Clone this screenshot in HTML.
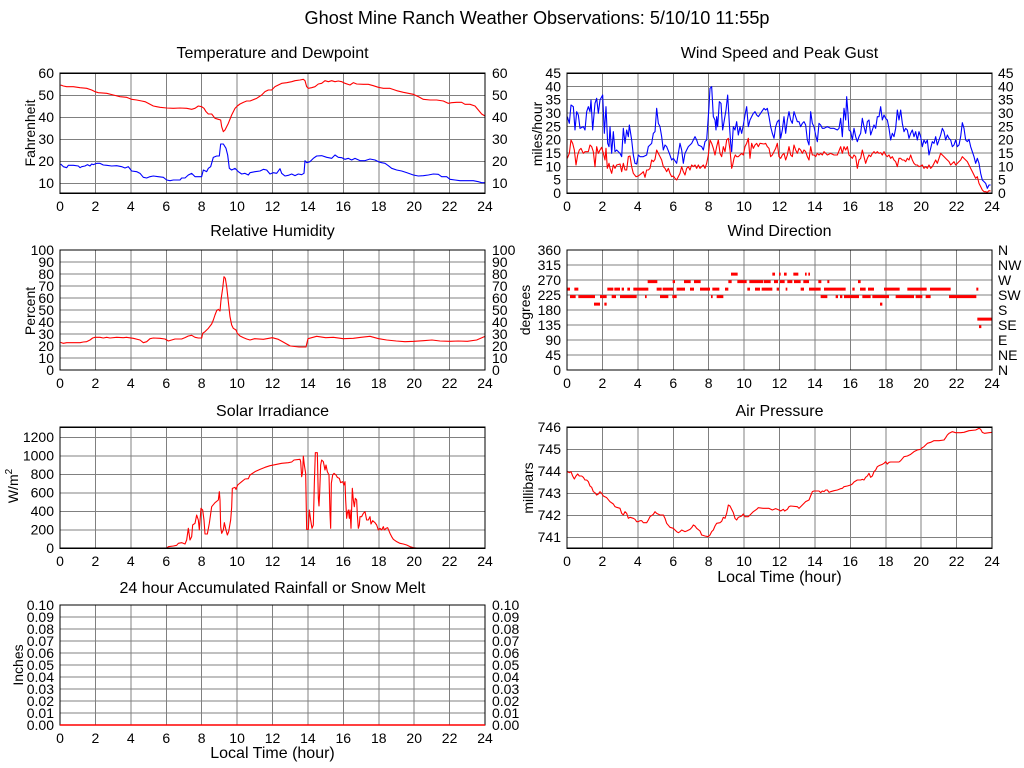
<!DOCTYPE html>
<html><head><meta charset="utf-8"><style>
html,body{margin:0;padding:0;background:#fff;}
svg{display:block;font-family:"Liberation Sans",Arial,sans-serif;}
.g{stroke:#808080;stroke-width:1;fill:none;shape-rendering:crispEdges}
.f{stroke:#000;stroke-width:1.3;fill:none;shape-rendering:crispEdges}
.s{fill:none;stroke-width:1.1;vector-effect:non-scaling-stroke;stroke-linejoin:round}
.r{stroke:#f00}.b{stroke:#00f}
.d{stroke:#f00;stroke-width:3;vector-effect:non-scaling-stroke;fill:none}
.t{font-size:16px;fill:#000}
.k{font-size:14px;fill:#000}
.e{text-anchor:end}.m{text-anchor:middle}
</style></head><body>
<svg width="1024" height="768" viewBox="0 0 1024 768" xmlns="http://www.w3.org/2000/svg">
<rect width="1024" height="768" fill="#fff"/>
<text x="537" y="24" class="m" font-size="18" textLength="465" lengthAdjust="spacingAndGlyphs">Ghost Mine Ranch Weather Observations: 5/10/10 11:55p</text>

<!-- ===== Panel 1: Temperature ===== -->
<text x="272.5" y="58" class="t m">Temperature and Dewpoint</text>
<path class="g" d="M95.4 73V193M130.8 73V193M166.3 73V193M201.7 73V193M237.1 73V193M272.5 73V193M307.9 73V193M343.3 73V193M378.8 73V193M414.2 73V193M449.6 73V193M60 95.3H485M60 117.3H485M60 139.3H485M60 161.3H485M60 183.3H485"/>
<g transform="translate(0,40) scale(0.33333)">
<polyline class="s r" points="182,135 190,138 200,140 220,140 240,143 260,145 275,150 285,155 295,158 320,160 340,165 360,170 380,172 395,178 410,180 425,183 435,185 445,190 460,198 470,200 480,202 500,204 520,205 540,204 560,205 575,208 585,205 595,198 605,200 612,205 618,215 625,222 635,222 645,235 655,238 662,240 665,260 670,275 675,270 685,250 695,225 705,205 712,198 720,192 730,187 740,183 750,183 770,175 785,165 795,155 805,150 815,150 825,140 835,135 845,130 860,128 875,125 885,122 900,120 910,118 915,122 920,140 925,145 935,143 945,140 955,132 965,130 975,122 985,125 995,122 1005,125 1015,123 1025,125 1035,130 1050,135 1060,128 1070,132 1090,133 1105,133 1120,137 1135,142 1150,145 1170,145 1190,152 1210,157 1225,160 1240,163 1255,170 1270,178 1290,180 1310,180 1330,183 1345,190 1355,188 1370,187 1385,187 1395,193 1410,193 1425,198 1435,210 1445,222 1455,228"/>
<polyline class="s b" points="182,372 190,380 200,383 205,376 220,376 235,378 240,383 245,380 255,378 262,374 270,378 275,372 280,374 290,370 300,370 310,375 320,376 335,378 350,377 365,380 375,384 385,380 395,393 410,395 420,400 430,412 440,414 450,410 460,408 475,410 490,412 500,420 510,422 520,420 540,420 545,414 555,414 565,405 575,400 585,410 605,410 610,390 620,395 625,385 632,380 640,352 650,348 658,348 662,312 670,312 678,325 683,345 688,385 695,390 705,385 715,395 725,402 735,400 745,405 750,398 765,395 780,393 790,388 800,390 810,402 820,398 830,400 840,386 845,400 850,404 855,408 865,406 875,402 885,407 895,402 905,404 912,400 915,362 920,368 930,365 940,355 950,348 965,347 980,352 995,355 1005,345 1015,352 1025,353 1035,358 1045,355 1055,360 1065,355 1080,362 1095,362 1110,357 1125,360 1135,365 1145,368 1155,370 1165,377 1175,385 1190,390 1205,393 1220,398 1240,405 1255,408 1270,407 1285,405 1300,402 1315,403 1325,410 1340,410 1350,418 1365,420 1380,422 1400,422 1420,422 1435,425 1445,428 1455,428"/>
</g>
<rect class="f" x="60" y="73.3" width="425" height="120"/>
<g class="k e">
<text x="54" y="78">60</text><text x="54" y="100">50</text><text x="54" y="122">40</text><text x="54" y="144">30</text><text x="54" y="166">20</text><text x="54" y="188">10</text>
</g>
<g class="k">
<text x="492" y="78">60</text><text x="492" y="100">50</text><text x="492" y="122">40</text><text x="492" y="144">30</text><text x="492" y="166">20</text><text x="492" y="188">10</text>
</g>
<g class="k m">
<text x="60" y="211">0</text><text x="95.4" y="211">2</text><text x="130.8" y="211">4</text><text x="166.3" y="211">6</text><text x="201.7" y="211">8</text><text x="237.1" y="211">10</text><text x="272.5" y="211">12</text><text x="307.9" y="211">14</text><text x="343.3" y="211">16</text><text x="378.8" y="211">18</text><text x="414.2" y="211">20</text><text x="449.6" y="211">22</text><text x="485" y="211">24</text>
</g>
<text class="k m" transform="translate(35,133) rotate(-90)">Fahrenheit</text>

<!-- ===== Panel 2: Wind speed ===== -->
<text x="779.5" y="58" class="t m">Wind Speed and Peak Gust</text>
<path class="g" d="M602.4 73V193M637.8 73V193M673.3 73V193M708.7 73V193M744.1 73V193M779.5 73V193M814.9 73V193M850.3 73V193M885.8 73V193M921.2 73V193M956.6 73V193M567 86.3H992M567 99.7H992M567 113H992M567 126.3H992M567 139.7H992M567 153H992M567 166.3H992M567 179.7H992"/>
<g transform="translate(510,40) scale(0.33333)">
<polyline class="s b" points="172,230 178,250 183,195 190,200 195,270 200,215 205,225 210,265 220,260 225,270 230,215 235,200 240,215 243,180 248,270 255,190 260,175 265,220 270,180 278,165 283,280 288,200 293,310 297,320 300,260 305,340 310,275 315,335 320,330 330,340 335,350 340,265 345,310 350,270 355,290 358,255 365,300 370,345 375,370 380,372 385,345 390,350 400,350 410,345 415,320 425,310 430,280 435,275 440,205 445,250 450,260 455,290 460,330 465,315 470,320 478,340 485,360 490,355 500,370 505,340 510,310 515,330 520,370 525,340 530,330 535,320 545,310 555,290 560,300 565,315 575,320 580,330 585,305 590,300 597,200 600,145 605,140 610,230 615,240 618,270 620,230 623,260 628,185 633,190 638,270 643,240 648,210 653,165 658,250 662,310 665,335 670,260 675,270 680,245 685,285 690,260 695,280 700,255 705,225 710,200 715,260 720,240 725,230 730,220 735,215 740,225 745,230 755,215 762,205 767,210 772,205 777,230 782,260 787,280 792,295 797,260 802,245 807,240 812,295 817,270 822,230 827,280 832,240 837,215 842,240 847,250 852,215 857,230 862,245 867,245 872,260 877,250 882,245 887,255 892,300 897,315 902,215 907,250 912,260 917,285 922,305 927,250 932,255 937,265 942,265 952,260 962,265 972,265 982,270 987,265 992,235 997,290 1002,205 1007,240 1010,170 1014,220 1017,270 1022,275 1027,300 1032,265 1037,290 1042,305 1047,290 1052,280 1057,235 1062,260 1067,280 1072,245 1077,240 1082,285 1087,270 1092,255 1097,265 1102,230 1107,230 1112,200 1117,240 1122,225 1127,235 1132,240 1137,265 1142,300 1147,280 1152,290 1157,265 1162,210 1167,240 1172,210 1177,250 1182,275 1187,265 1192,270 1197,295 1202,280 1207,270 1212,290 1217,275 1222,300 1227,275 1232,290 1237,320 1242,300 1247,310 1252,300 1257,345 1262,325 1267,305 1272,310 1277,290 1282,315 1287,300 1292,285 1297,265 1302,275 1307,300 1312,285 1317,295 1322,300 1327,320 1332,315 1337,300 1342,320 1347,315 1352,290 1357,248 1362,265 1367,300 1372,305 1377,298 1382,320 1387,335 1392,350 1397,370 1402,355 1407,370 1412,400 1417,420 1422,425 1427,430 1432,445 1437,435 1442,435"/>
<polyline class="s r" points="172,355 178,340 183,300 188,310 193,330 198,375 203,345 208,330 213,325 220,340 225,335 235,335 240,315 245,320 250,335 255,380 260,320 265,340 270,330 275,322 280,340 285,360 288,325 292,385 297,370 300,385 305,400 310,375 315,385 320,375 330,372 335,395 340,370 345,390 350,390 355,350 360,348 365,380 370,400 378,410 385,408 395,400 400,395 405,412 410,390 415,390 420,385 425,360 430,365 435,358 440,330 445,340 450,350 455,360 460,380 465,385 470,395 475,385 480,400 485,410 490,408 495,415 500,420 505,410 510,400 515,380 520,395 525,405 530,385 535,380 540,390 545,375 550,380 555,375 560,385 565,375 570,385 575,380 580,375 585,385 590,370 595,345 600,300 605,310 610,325 615,345 620,320 625,300 630,340 635,350 640,320 645,335 650,300 655,295 660,330 665,385 668,375 672,355 676,345 680,350 685,350 690,345 695,340 700,345 705,320 710,310 715,295 720,355 725,310 730,325 735,315 740,310 745,320 750,310 762,312 767,310 772,320 777,325 782,350 787,345 792,335 797,325 802,310 807,350 812,355 817,345 822,340 827,360 832,345 837,320 842,345 847,350 852,315 857,330 862,340 867,325 872,330 877,340 882,330 887,335 892,350 897,360 902,320 907,345 912,345 917,350 922,340 927,345 932,340 937,345 942,335 952,345 962,340 972,345 982,345 992,320 997,340 1002,320 1007,330 1012,320 1017,345 1022,350 1027,355 1032,345 1037,350 1042,385 1047,360 1052,355 1057,330 1062,350 1067,370 1072,355 1077,345 1082,350 1087,340 1092,335 1097,340 1102,335 1107,340 1112,338 1117,345 1122,335 1127,345 1132,350 1137,345 1142,355 1147,350 1152,360 1157,365 1162,380 1167,355 1172,355 1177,360 1182,360 1187,365 1192,355 1197,360 1202,345 1207,360 1212,370 1217,375 1222,375 1227,380 1232,378 1237,375 1242,385 1247,380 1252,385 1257,375 1262,385 1267,380 1272,370 1277,360 1282,370 1287,355 1292,340 1297,345 1302,350 1307,355 1312,360 1317,365 1322,375 1327,370 1332,365 1337,375 1342,370 1347,365 1352,360 1357,350 1362,355 1367,360 1372,365 1377,375 1382,385 1387,395 1392,405 1397,415 1402,410 1407,430 1412,440 1417,450 1422,455 1427,455 1432,457 1437,452 1442,453"/>
</g>
<rect class="f" x="567" y="73.3" width="425" height="120"/>
<g class="k e">
<text x="561" y="78">45</text><text x="561" y="91.3">40</text><text x="561" y="104.7">35</text><text x="561" y="118">30</text><text x="561" y="131.3">25</text><text x="561" y="144.7">20</text><text x="561" y="158">15</text><text x="561" y="171.3">10</text><text x="561" y="184.7">5</text><text x="561" y="198">0</text>
</g>
<g class="k">
<text x="998" y="78">45</text><text x="998" y="91.3">40</text><text x="998" y="104.7">35</text><text x="998" y="118">30</text><text x="998" y="131.3">25</text><text x="998" y="144.7">20</text><text x="998" y="158">15</text><text x="998" y="171.3">10</text><text x="998" y="184.7">5</text><text x="998" y="198">0</text>
</g>
<g class="k m">
<text x="567" y="211">0</text><text x="602.4" y="211">2</text><text x="637.8" y="211">4</text><text x="673.3" y="211">6</text><text x="708.7" y="211">8</text><text x="744.1" y="211">10</text><text x="779.5" y="211">12</text><text x="814.9" y="211">14</text><text x="850.3" y="211">16</text><text x="885.8" y="211">18</text><text x="921.2" y="211">20</text><text x="956.6" y="211">22</text><text x="992" y="211">24</text>
</g>
<text class="k m" transform="translate(542,134) rotate(-90)">miles/hour</text>

<!-- ===== Panel 3: RH ===== -->
<text x="272.5" y="236" class="t m">Relative Humidity</text>
<path class="g" d="M95.4 250V370M130.8 250V370M166.3 250V370M201.7 250V370M237.1 250V370M272.5 250V370M307.9 250V370M343.3 250V370M378.8 250V370M414.2 250V370M449.6 250V370M60 262H485M60 274H485M60 286H485M60 298H485M60 310H485M60 322H485M60 334H485M60 346H485M60 358H485"/>
<g transform="translate(0,220) scale(0.33333)">
<polyline class="s r" points="182,367 190,370 200,368 220,368 240,368 250,366 260,365 270,360 278,354 285,352 300,352 310,354 320,352 330,354 350,352 370,353 380,352 400,355 420,360 430,368 440,365 450,356 460,354 480,355 495,357 505,363 515,360 525,357 545,357 555,353 565,348 575,346 585,352 595,354 605,354 608,340 615,335 625,325 635,312 640,300 645,285 650,272 655,268 660,273 663,240 668,205 672,170 676,175 680,200 685,245 690,290 695,315 700,325 708,330 712,340 720,348 730,353 740,357 750,360 764,356 790,358 817,353 835,358 844,363 860,372 871,378 897,381 918,381 924,356 950,349 977,353 1000,352 1030,356 1060,355 1083,352 1110,349 1136,356 1160,360 1189,363 1215,365 1242,364 1270,362 1296,360 1320,363 1349,364 1375,363 1402,364 1430,360 1455,349"/>
</g>
<rect class="f" x="60" y="250" width="425" height="120"/>
<g class="k e">
<text x="54" y="255">100</text><text x="54" y="267">90</text><text x="54" y="279">80</text><text x="54" y="291">70</text><text x="54" y="303">60</text><text x="54" y="315">50</text><text x="54" y="327">40</text><text x="54" y="339">30</text><text x="54" y="351">20</text><text x="54" y="363">10</text><text x="54" y="375">0</text>
</g>
<g class="k">
<text x="492" y="255">100</text><text x="492" y="267">90</text><text x="492" y="279">80</text><text x="492" y="291">70</text><text x="492" y="303">60</text><text x="492" y="315">50</text><text x="492" y="327">40</text><text x="492" y="339">30</text><text x="492" y="351">20</text><text x="492" y="363">10</text><text x="492" y="375">0</text>
</g>
<g class="k m">
<text x="60" y="388">0</text><text x="95.4" y="388">2</text><text x="130.8" y="388">4</text><text x="166.3" y="388">6</text><text x="201.7" y="388">8</text><text x="237.1" y="388">10</text><text x="272.5" y="388">12</text><text x="307.9" y="388">14</text><text x="343.3" y="388">16</text><text x="378.8" y="388">18</text><text x="414.2" y="388">20</text><text x="449.6" y="388">22</text><text x="485" y="388">24</text>
</g>
<text class="k m" transform="translate(35,311) rotate(-90)">Percent</text>

<!-- ===== Panel 4: Wind direction ===== -->
<text x="779.5" y="236" class="t m">Wind Direction</text>
<path class="g" d="M602.4 250V370M637.8 250V370M673.3 250V370M708.7 250V370M744.1 250V370M779.5 250V370M814.9 250V370M850.3 250V370M885.8 250V370M921.2 250V370M956.6 250V370M567 265H992M567 280H992M567 295H992M567 310H992M567 325H992M567 340H992M567 355H992"/>
<g transform="translate(510,220) scale(0.33333)">
<path class="d" d="M170 207.5H180M193 207.5H205M292 207.5H310M313 207.5H330M335 207.5H342M352 207.5H360M370 207.5H415M440 207.5H455M458 207.5H490M500 207.5H525M540 207.5H552M570 207.5H600M607 207.5H628M645 207.5H655M712 207.5H720M735 207.5H750M755 207.5H787M800 207.5H807M827 207.5H832M872 207.5H882M897 207.5H932M942 207.5H1007M1027 207.5H1034M1050 207.5H1067M1074 207.5H1092M1122 207.5H1169M1192 207.5H1250M1260 207.5H1322M1399 207.5H1405"/>
<path class="d" d="M180 230H197M205 230H255M270 230H290M305 230H318M330 230H380M405 230H410M450 230H475M487 230H500M603 230H608M620 230H640M932 230H952M977 230H984M990 230H997M1002 230H1047M1057 230H1082M1087 230H1137M1157 230H1212M1217 230H1237M1247 230H1262M1317 230H1399"/>
<path class="d" d="M252 252.5H270M283 252.5H290M1110 252.5H1117"/>
<path class="d" d="M413 185H442M488 185H495M522 185H542M552 185H572M655 185H665M682 185H710M718 185H760M762 185H782M792 185H804M810 185H824M832 185H847M852 185H872M880 185H897M925 185H934M952 185H958M1044 185H1052"/>
<path class="d" d="M663 162.5H683M787 162.5H795M807 162.5H812M822 162.5H830M850 162.5H865M885 162.5H890M895 162.5H900"/>
<path class="d" d="M1402 297.5H1447M1407 320H1414"/>
</g>
<rect class="f" x="567" y="250" width="425" height="120"/>
<g class="k e">
<text x="561" y="255">360</text><text x="561" y="270">315</text><text x="561" y="285">270</text><text x="561" y="300">225</text><text x="561" y="315">180</text><text x="561" y="330">135</text><text x="561" y="345">90</text><text x="561" y="360">45</text><text x="561" y="375">0</text>
</g>
<g class="k">
<text x="998" y="255">N</text><text x="998" y="270">NW</text><text x="998" y="285">W</text><text x="998" y="300">SW</text><text x="998" y="315">S</text><text x="998" y="330">SE</text><text x="998" y="345">E</text><text x="998" y="360">NE</text><text x="998" y="375">N</text>
</g>
<g class="k m">
<text x="567" y="388">0</text><text x="602.4" y="388">2</text><text x="637.8" y="388">4</text><text x="673.3" y="388">6</text><text x="708.7" y="388">8</text><text x="744.1" y="388">10</text><text x="779.5" y="388">12</text><text x="814.9" y="388">14</text><text x="850.3" y="388">16</text><text x="885.8" y="388">18</text><text x="921.2" y="388">20</text><text x="956.6" y="388">22</text><text x="992" y="388">24</text>
</g>
<text class="k m" transform="translate(530,310) rotate(-90)">degrees</text>

<!-- ===== Panel 5: Solar ===== -->
<text x="272.5" y="416" class="t m">Solar Irradiance</text>
<path class="g" d="M95.4 427V548M130.8 427V548M166.3 427V548M201.7 427V548M237.1 427V548M272.5 427V548M307.9 427V548M343.3 427V548M378.8 427V548M414.2 427V548M449.6 427V548M60 437.3H485M60 455.8H485M60 474.3H485M60 492.8H485M60 511.3H485M60 529.8H485"/>
<g transform="translate(0,400) scale(0.33333)">
<polyline class="s r" points="180,444 500,444 505,440 520,438 530,436 535,430 545,428 555,432 560,420 565,385 570,420 575,410 578,375 585,370 590,345 595,360 598,390 603,325 608,330 612,360 615,402 622,402 628,370 635,320 645,308 655,300 658,275 660,300 662,380 665,400 670,390 673,368 678,390 682,405 686,395 692,360 695,322 697,265 705,262 708,268 713,255 725,245 735,237 745,236 750,225 765,215 780,208 795,202 810,197 825,194 845,190 865,188 875,186 882,180 900,178 902,185 905,230 908,215 910,168 913,195 917,220 920,388 925,388 928,330 932,360 936,385 940,375 943,250 946,158 952,158 955,295 957,318 959,278 962,195 965,180 970,185 975,210 978,195 982,215 987,225 990,340 992,385 994,250 998,225 1002,220 1008,225 1012,232 1018,235 1022,248 1028,245 1032,255 1035,245 1037,300 1040,355 1042,340 1045,330 1048,355 1050,330 1053,385 1056,295 1057,265 1060,300 1063,320 1066,295 1070,300 1072,345 1075,385 1078,375 1080,350 1085,350 1090,340 1095,335 1100,360 1105,360 1110,350 1113,372 1118,362 1125,368 1130,375 1135,390 1140,385 1145,390 1150,380 1153,390 1158,385 1163,383 1170,400 1175,410 1180,418 1190,425 1200,430 1210,432 1220,435 1230,440 1240,443 1250,444 1456,444"/>
</g>
<rect class="f" x="60" y="427.3" width="425" height="121"/>
<g class="k e">
<text x="54" y="442">1200</text><text x="54" y="460.5">1000</text><text x="54" y="479">800</text><text x="54" y="497.5">600</text><text x="54" y="516">400</text><text x="54" y="534.5">200</text><text x="54" y="553">0</text>
</g>
<g class="k m">
<text x="60" y="566">0</text><text x="95.4" y="566">2</text><text x="130.8" y="566">4</text><text x="166.3" y="566">6</text><text x="201.7" y="566">8</text><text x="237.1" y="566">10</text><text x="272.5" y="566">12</text><text x="307.9" y="566">14</text><text x="343.3" y="566">16</text><text x="378.8" y="566">18</text><text x="414.2" y="566">20</text><text x="449.6" y="566">22</text><text x="485" y="566">24</text>
</g>
<text class="k m" transform="translate(18,486) rotate(-90)">W/m<tspan font-size="10" dy="-6">2</tspan></text>

<!-- ===== Panel 6: Pressure ===== -->
<text x="779.5" y="416" class="t m">Air Pressure</text>
<path class="g" d="M602.4 427V548M637.8 427V548M673.3 427V548M708.7 427V548M744.1 427V548M779.5 427V548M814.9 427V548M850.3 427V548M885.8 427V548M921.2 427V548M956.6 427V548M567 449.3H992M567 471.3H992M567 493.3H992M567 515.3H992M567 537.3H992"/>
<g transform="translate(510,400) scale(0.33333)">
<polyline class="s r" points="172,215 178,218 183,215 188,228 193,237 198,228 203,222 208,228 215,228 220,232 225,240 230,240 235,245 240,258 245,262 250,275 255,278 260,285 265,282 270,275 275,280 280,288 290,293 300,305 310,312 315,320 320,322 330,325 335,340 340,345 345,335 350,340 355,355 360,352 370,355 375,358 380,365 385,365 390,362 395,362 400,368 410,368 415,360 420,350 430,343 435,335 440,340 450,345 460,345 465,355 470,370 480,382 490,385 495,390 500,395 505,398 510,395 515,390 525,395 530,393 540,388 545,383 550,375 555,378 560,385 570,393 575,405 585,408 595,410 600,405 605,395 610,390 615,378 620,370 630,368 635,364 640,352 645,355 650,340 655,315 660,318 665,328 670,338 675,355 680,360 685,352 695,348 700,342 705,350 715,350 720,345 730,335 740,328 745,323 760,325 777,325 787,330 797,326 807,330 812,333 820,328 824,333 832,328 837,320 842,318 862,320 867,325 877,315 887,305 897,300 907,275 912,273 927,273 932,278 937,273 942,275 947,270 952,270 957,277 962,275 972,272 982,270 987,268 992,266 997,265 1002,260 1012,258 1022,255 1027,252 1032,246 1042,240 1052,240 1057,238 1062,240 1067,232 1072,228 1077,220 1082,232 1087,228 1092,215 1097,210 1102,200 1107,197 1117,193 1122,190 1127,185 1132,192 1137,187 1142,186 1152,186 1167,186 1172,182 1182,170 1192,168 1202,163 1212,155 1222,150 1232,148 1237,143 1242,140 1252,130 1262,127 1272,122 1287,122 1302,120 1307,113 1312,105 1317,100 1327,95 1337,98 1352,98 1362,97 1377,92 1397,90 1407,85 1412,88 1417,97 1424,100 1437,98 1447,97"/>
</g>
<rect class="f" x="567" y="427.3" width="425" height="121"/>
<g class="k e">
<text x="561" y="432">746</text><text x="561" y="454">745</text><text x="561" y="476">744</text><text x="561" y="498">743</text><text x="561" y="520">742</text><text x="561" y="542">741</text>
</g>
<g class="k m">
<text x="567" y="566">0</text><text x="602.4" y="566">2</text><text x="637.8" y="566">4</text><text x="673.3" y="566">6</text><text x="708.7" y="566">8</text><text x="744.1" y="566">10</text><text x="779.5" y="566">12</text><text x="814.9" y="566">14</text><text x="850.3" y="566">16</text><text x="885.8" y="566">18</text><text x="921.2" y="566">20</text><text x="956.6" y="566">22</text><text x="992" y="566">24</text>
</g>
<text x="779.5" y="582" class="t m">Local Time (hour)</text>
<text class="k m" transform="translate(533,488) rotate(-90)">millibars</text>

<!-- ===== Panel 7: Rain ===== -->
<text x="272.5" y="593" class="t m">24 hour Accumulated Rainfall or Snow Melt</text>
<path class="g" d="M95.4 605V725M130.8 605V725M166.3 605V725M201.7 605V725M237.1 605V725M272.5 605V725M307.9 605V725M343.3 605V725M378.8 605V725M414.2 605V725M449.6 605V725M60 617H485M60 629H485M60 641H485M60 653H485M60 665H485M60 677H485M60 689H485M60 701H485M60 713H485"/>
<rect class="f" x="60" y="605" width="425" height="120"/>
<path d="M60 725H485" stroke="#f00" stroke-width="1.6" fill="none"/>
<g class="k e">
<text x="54" y="610">0.10</text><text x="54" y="622">0.09</text><text x="54" y="634">0.08</text><text x="54" y="646">0.07</text><text x="54" y="658">0.06</text><text x="54" y="670">0.05</text><text x="54" y="682">0.04</text><text x="54" y="694">0.03</text><text x="54" y="706">0.02</text><text x="54" y="718">0.01</text><text x="54" y="730">0.00</text>
</g>
<g class="k">
<text x="492" y="610">0.10</text><text x="492" y="622">0.09</text><text x="492" y="634">0.08</text><text x="492" y="646">0.07</text><text x="492" y="658">0.06</text><text x="492" y="670">0.05</text><text x="492" y="682">0.04</text><text x="492" y="694">0.03</text><text x="492" y="706">0.02</text><text x="492" y="718">0.01</text><text x="492" y="730">0.00</text>
</g>
<g class="k m">
<text x="60" y="743">0</text><text x="95.4" y="743">2</text><text x="130.8" y="743">4</text><text x="166.3" y="743">6</text><text x="201.7" y="743">8</text><text x="237.1" y="743">10</text><text x="272.5" y="743">12</text><text x="307.9" y="743">14</text><text x="343.3" y="743">16</text><text x="378.8" y="743">18</text><text x="414.2" y="743">20</text><text x="449.6" y="743">22</text><text x="485" y="743">24</text>
</g>
<text x="272.5" y="758" class="t m">Local Time (hour)</text>
<text class="k m" transform="translate(23,665) rotate(-90)">Inches</text>
</svg>
</body></html>
